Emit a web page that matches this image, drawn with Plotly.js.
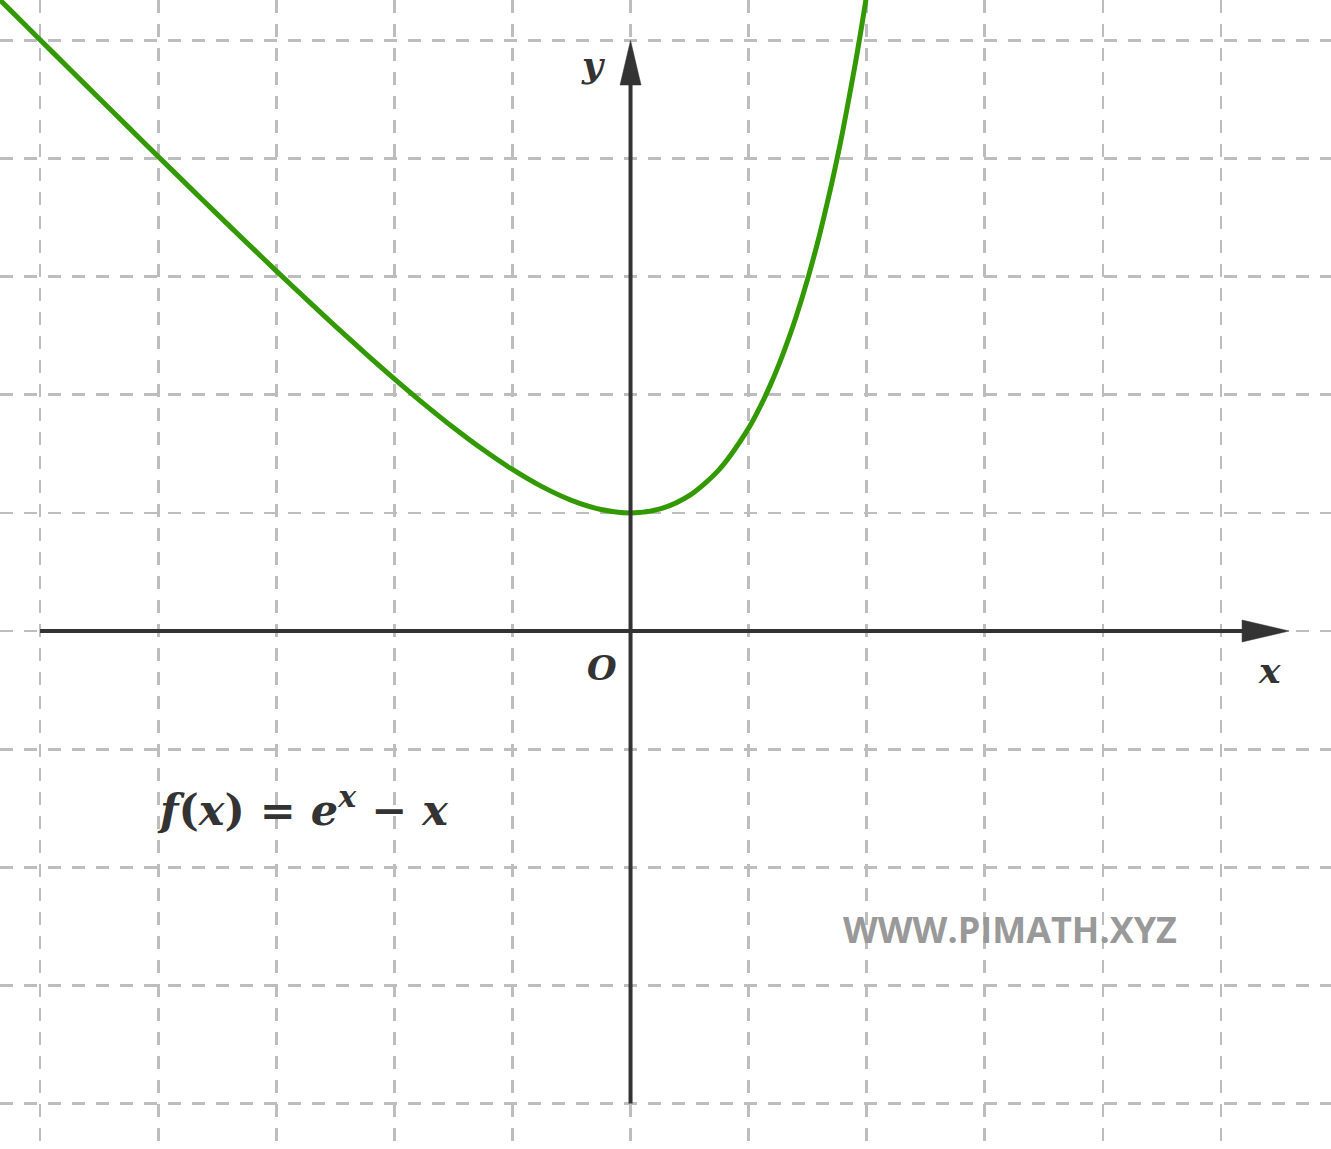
<!DOCTYPE html>
<html>
<head>
<meta charset="utf-8">
<script src="https://cdn.plot.ly/plotly-3.0.1.min.js"></script>
<style>html,body{margin:0;padding:0;background:#fff;}#chart{width:1331px;height:1149px;}</style>
</head>
<body>
<div id="chart"></div>
<script>
// Curve f(x) = e^x - x
const curveX = [-5.5, -5.25, -5, -4.75, -4.5, -4.25, -4, -3.75, -3.5, -3.25, -3, -2.75, -2.5, -2.25, -2, -1.75, -1.5, -1.25, -1, -0.75, -0.5, -0.25, 0, 0.25, 0.5, 0.75, 1, 1.1, 1.2, 1.25, 1.3, 1.4, 1.5, 1.6, 1.7, 1.75, 1.8, 1.9, 1.95, 2.0, 2.05, 2.1];
const curveY = [5.5041, 5.2552, 5.0067, 4.7587, 4.5111, 4.2643, 4.0183, 3.7735, 3.5302, 3.2888, 3.0498, 2.8139, 2.5821, 2.3554, 2.1353, 1.9238, 1.7231, 1.5365, 1.3679, 1.2224, 1.1065, 1.0288, 1.0, 1.0340, 1.1487, 1.3670, 1.7183, 1.9042, 2.1201, 2.2403, 2.3693, 2.6552, 2.9817, 3.3530, 3.7739, 4.0046, 4.2496, 4.7859, 5.0787, 5.3891, 5.7179, 6.0662];

const formulaLabel = '<b><i>f</i>(<i>x</i>)&nbsp;=&nbsp;<i>e</i><sup><i>x</i></sup>&nbsp;−&nbsp;<i>x</i></b>';
const watermark = 'WWW.PIMATH.XYZ';
const xAxisLabel = 'x';
const yAxisLabel = 'y';
const originLabel = 'O';

const xRange = [-5.339, 5.931];
const yRange = [-4.386, 5.343];

const axisColor = '#333333';
const gridColor = '#bdbdbd';
const mathFont = 'DejaVu Serif, Liberation Serif, serif';

const traces = [{
  x: curveX,
  y: curveY,
  type: 'scatter',
  mode: 'lines',
  line: {color: '#339900', width: 5, shape: 'spline', smoothing: 0.8},
  hoverinfo: 'skip',
  showlegend: false
}];

const shapes = [
  {type: 'line', xref: 'x', yref: 'y', x0: -5, y0: 0, x1: 5.2, y1: 0, line: {color: axisColor, width: 4}, layer: 'above'},
  {type: 'line', xref: 'x', yref: 'y', x0: 0, y0: -4, x1: 0, y1: 4.65, line: {color: axisColor, width: 4}, layer: 'above'},
  {type: 'path', xref: 'x', yref: 'y', path: 'M 5.178 0.093 L 5.576 0 L 5.178 -0.093 Z', fillcolor: axisColor, line: {color: axisColor, width: 0.5}, layer: 'above'},
  {type: 'path', xref: 'x', yref: 'y', path: 'M -0.089 4.623 L 0 5.0 L 0.089 4.623 Z', fillcolor: axisColor, line: {color: axisColor, width: 0.5}, layer: 'above'}
];

const annotations = [
  {x: -0.32, y: 4.8, xref: 'x', yref: 'y', text: '<b><i>' + yAxisLabel + '</i></b>', showarrow: false,
   font: {family: mathFont, size: 36, color: axisColor}},
  {x: 5.41, y: -0.33, xref: 'x', yref: 'y', text: '<b><i>' + xAxisLabel + '</i></b>', showarrow: false,
   font: {family: mathFont, size: 36, color: axisColor}},
  {x: -0.24, y: -0.31, xref: 'x', yref: 'y', text: '<b><i>' + originLabel + '</i></b>', showarrow: false,
   font: {family: mathFont, size: 34, color: axisColor}},
  {x: -4.03, y: -1.49, xref: 'x', yref: 'y', text: formulaLabel, showarrow: false, xanchor: 'left',
   font: {family: mathFont, size: 43, color: axisColor}},
  {x: 3.21, y: -2.53, xref: 'x', yref: 'y', text: '<b>' + watermark + '</b>', showarrow: false,
   font: {family: 'Open Sans, sans-serif', size: 36, color: '#999999'}}
];

const axisCommon = {
  showgrid: true,
  gridcolor: gridColor,
  gridwidth: 2.8,
  griddash: '13px,11px',
  dtick: 1,
  tick0: 0,
  zeroline: false,
  showline: false,
  showticklabels: false,
  ticks: '',
  fixedrange: true
};

const layout = {
  width: 1331,
  height: 1149,
  margin: {l: 0, r: 0, t: 0, b: 0, pad: 0},
  paper_bgcolor: '#ffffff',
  plot_bgcolor: '#ffffff',
  xaxis: Object.assign({}, axisCommon, {range: xRange}),
  yaxis: Object.assign({}, axisCommon, {range: yRange}),
  shapes: shapes,
  annotations: annotations,
  showlegend: false
};

Plotly.newPlot('chart', traces, layout, {displayModeBar: false, staticPlot: true});
</script>
</body>
</html>
